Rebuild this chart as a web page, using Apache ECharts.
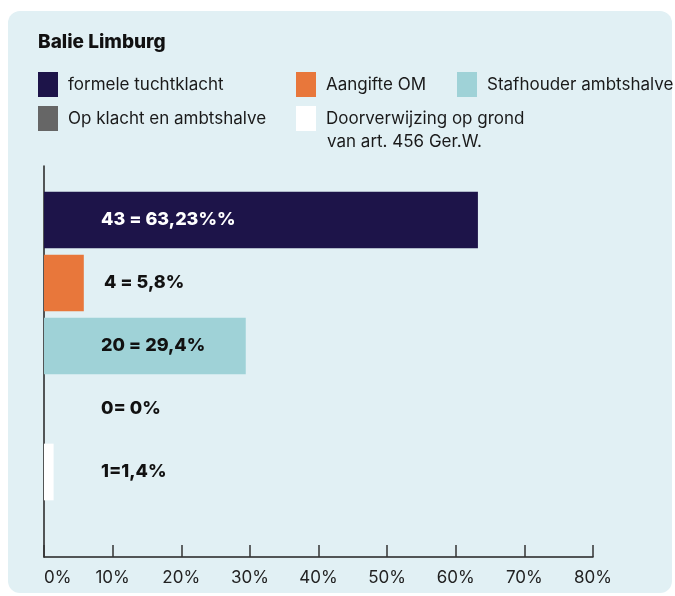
<!DOCTYPE html>
<html>
<head>
<meta charset="utf-8">
<script src="https://cdn.jsdelivr.net/npm/echarts@6/dist/echarts.min.js"></script>
<style>
  html, body { margin: 0; padding: 0; background: #ffffff; }
  #chart { width: 675px; height: 596px; }
</style>
</head>
<body>
<div id="chart"></div>
<script>
const categories = [
  "formele tuchtklacht",
  "Aangifte OM",
  "Stafhouder ambtshalve",
  "Op klacht en ambtshalve",
  "Doorverwijzing op grond\nvan art. 456 Ger.W."
];
const percentages = [63.23, 5.8, 29.4, 0, 1.4];
const barLabels = ["43 = 63,23%%", "4 = 5,8%", "20 = 29,4%", "0= 0%", "1=1,4%"];
const axisTicks = [0, 10, 20, 30, 40, 50, 60, 70, 80];

const colors = ["#1d1449", "#e8773b", "#9fd2d7", "#666666", "#ffffff"];
const labelColors = ["#ffffff", "#111111", "#111111", "#111111", "#111111"];
// legend slots: [left, top]
const legendPos = [[38, 72], [296, 72], [457, 72], [38, 106], [296, 106]];

const font = "Inter, 'Liberation Sans', sans-serif";

const chart = echarts.init(document.getElementById("chart"));

const series = categories.map((name, i) => ({
  name: name,
  type: "bar",
  stack: "total",
  xAxisIndex: 0,
  yAxisIndex: 0,
  barCategoryGap: "10%",
  itemStyle: { color: colors[i] },
  label: {
    show: true,
    position: [i === 1 ? 60 : 57, "50%"],
    verticalAlign: "middle",
    formatter: () => barLabels[i],
    color: labelColors[i],
    fontFamily: font,
    fontWeight: 800,
    fontSize: 18
  },
  data: categories.map((c, j) => (j === i ? percentages[i] : "-"))
}));

const legends = categories.map((name, i) => ({
  data: [name],
  left: legendPos[i][0],
  top: legendPos[i][1],
  padding: 0,
  icon: "rect",
  itemWidth: 20,
  itemHeight: 25,
  selectedMode: false,
  formatter: (n) => n.split("\n")[0],
  textStyle: {
    color: "#1a1a1a",
    fontFamily: font,
    fontSize: 17,
    padding: [0, 0, 0, 5]
  }
}));

const option = {
  backgroundColor: "#ffffff",
  animation: false,
  graphic: [
    {
      type: "rect",
      left: 8,
      top: 11,
      z: -10,
      shape: { width: 664, height: 582, r: 12 },
      style: { fill: "#e1f0f4" }
    }
  ],
  title: [
    {
      text: "Balie Limburg",
      left: 38,
      top: 33,
      padding: 0,
      textStyle: { fontFamily: font, fontWeight: 800, fontSize: 19, color: "#111111" }
    },
    {
      text: "van art. 456 Ger.W.",
      left: 327,
      top: 133,
      padding: 0,
      textStyle: { fontFamily: font, fontWeight: "normal", fontSize: 17, color: "#1a1a1a" }
    }
  ],
  legend: legends,
  grid: [
    { left: 44, right: 82, top: 188.5, height: 315 },
    { left: 44, right: 82, top: 166, bottom: 39 }
  ],
  xAxis: [
    {
      type: "value",
      gridIndex: 0,
      min: axisTicks[0],
      max: axisTicks[axisTicks.length - 1],
      show: false
    },
    {
      type: "value",
      gridIndex: 1,
      min: axisTicks[0],
      max: axisTicks[axisTicks.length - 1],
      interval: axisTicks[1] - axisTicks[0],
      axisLine: { show: true, lineStyle: { color: "#222222", width: 1.5 } },
      axisTick: { show: true, inside: true, length: 12, lineStyle: { color: "#333333", width: 1.5 } },
      splitLine: { show: false },
      axisLabel: {
        formatter: "{value}%",
        color: "#222222",
        fontFamily: font,
        fontSize: 17,
        margin: 12,
        alignMinLabel: "left"
      }
    }
  ],
  yAxis: [
    {
      type: "category",
      gridIndex: 0,
      inverse: true,
      data: categories,
      show: false
    },
    {
      type: "value",
      gridIndex: 1,
      min: 0,
      max: 1,
      axisLine: { show: true, lineStyle: { color: "#222222", width: 1.5 } },
      axisTick: { show: false },
      axisLabel: { show: false },
      splitLine: { show: false }
    }
  ],
  series: series
};

chart.setOption(option);
</script>
</body>
</html>
